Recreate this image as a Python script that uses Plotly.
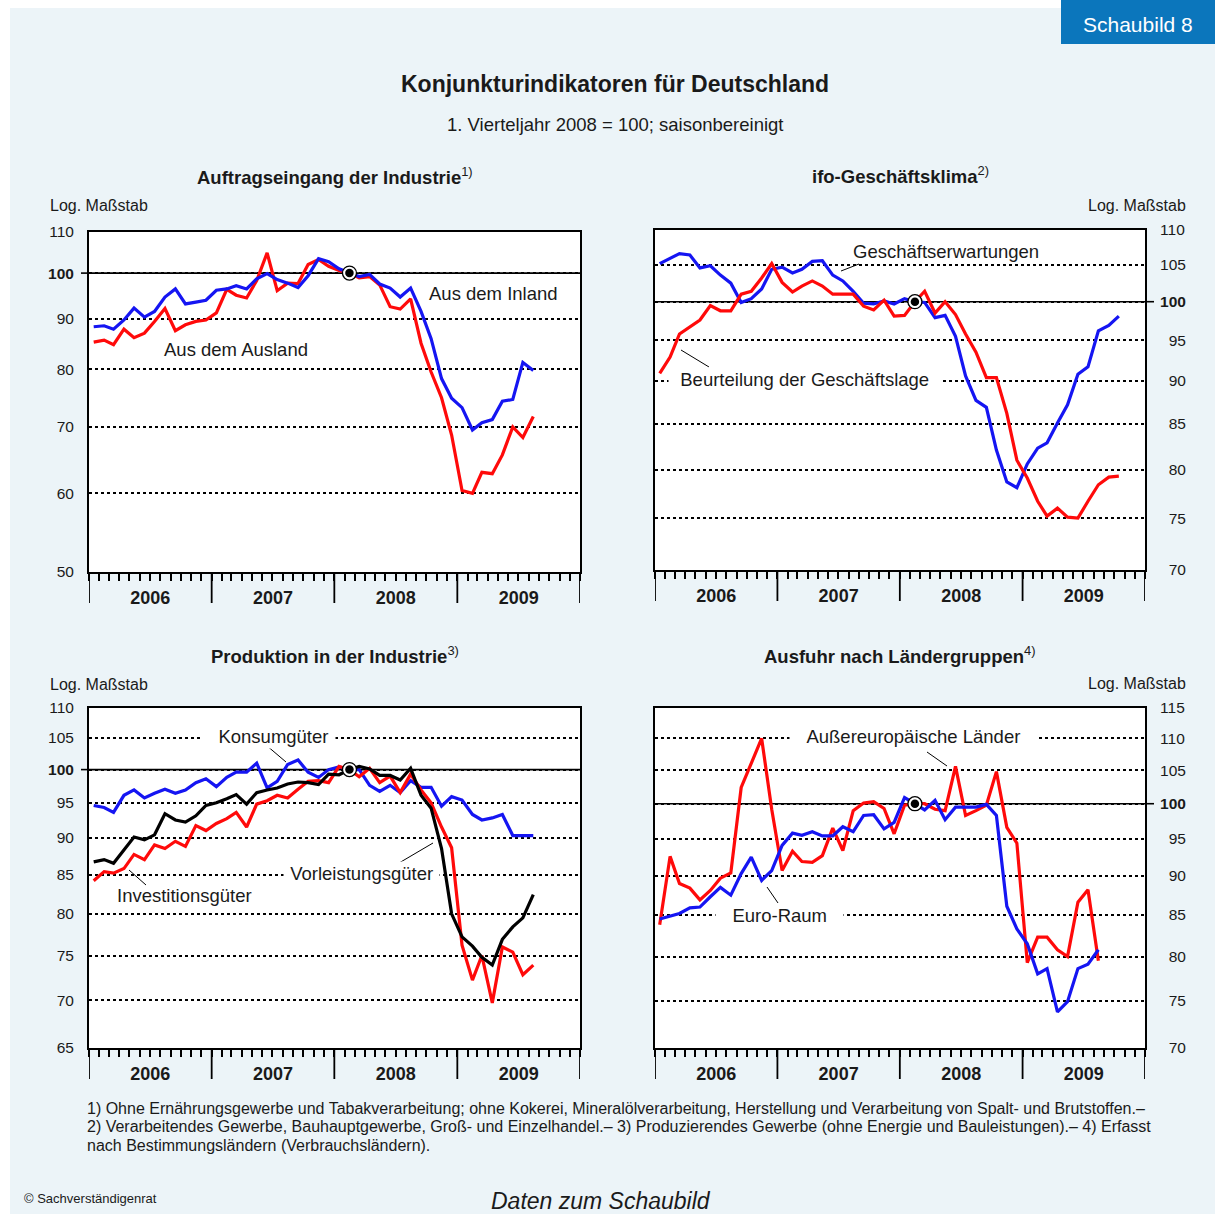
import math
import pandas as pd
import plotly.graph_objects as go

# ---------------- data ----------------
MONTHS = pd.date_range("2006-01-01", "2009-10-01", freq="MS")  # Jan 2006 .. Oct 2009
REF_DATE = "2008-02-15"   # 1. Vierteljahr 2008 = 100
REF_VALUE = 100

auftrag_inland = [88.3, 88.5, 87.8, 89.7, 92.2, 90.3, 91.5, 94.6, 96.4, 93.1,
                  93.5, 93.9, 96.1, 96.4, 97.1, 96.4, 98.7, 99.9, 98.5, 97.7,
                  96.7, 99.4, 103.4, 102.7, 101.0, 100.0, 99.2, 99.7, 97.5, 96.6,
                  94.6, 96.6, 91.5, 85.9, 78.3, 74.8, 73.2, 69.5, 70.7, 71.2,
                  74.3, 74.6, 81.3, 79.8]
auftrag_ausland = [85.2, 85.6, 84.7, 87.8, 86.1, 87.0, 89.4, 92.1, 87.5, 88.7,
                   89.4, 89.7, 91.2, 96.3, 95.0, 94.4, 98.3, 104.8, 96.0, 97.7,
                   97.6, 102.0, 103.2, 101.6, 100.6, 100.0, 98.9, 99.2, 97.3, 92.5,
                   92.0, 94.2, 85.0, 79.5, 74.9, 68.7, 60.4, 60.0, 63.0, 62.8,
                   65.6, 70.0, 68.3, 71.7]

ifo_erwartungen = [105.2, 105.9, 106.6, 106.4, 104.6, 104.9, 103.6, 102.5, 99.9, 100.4,
                   101.7, 104.4, 104.7, 103.9, 104.4, 105.5, 105.6, 103.6, 102.8, 101.4,
                   99.8, 99.7, 100.1, 99.7, 100.4, 100.0, 99.9, 97.9, 98.2, 95.5,
                   90.6, 87.7, 86.9, 82.1, 78.7, 78.1, 80.6, 82.3, 82.9, 85.1,
                   87.2, 90.8, 91.7, 96.2, 96.9, 98.1]
ifo_lage = [90.9, 92.9, 95.8, 96.7, 97.6, 99.5, 98.8, 98.8, 101.0, 101.4,
            103.2, 105.2, 102.6, 101.3, 102.1, 102.8, 102.1, 101.0, 101.0, 101.0,
            99.4, 98.9, 100.2, 98.1, 98.2, 100.0, 101.4, 98.5, 100.0, 98.3,
            95.8, 93.5, 90.4, 90.4, 86.2, 81.0, 79.1, 76.7, 75.2, 76.0,
            75.1, 75.0, 76.7, 78.4, 79.2, 79.3]

prod_konsum = [94.6, 94.3, 93.6, 96.1, 96.9, 95.7, 96.4, 97.0, 96.4, 96.9,
               98.0, 98.6, 97.4, 98.8, 99.6, 99.6, 101.0, 97.2, 98.2, 100.8,
               101.5, 99.6, 98.8, 100.0, 100.4, 100.0, 100.0, 97.6, 96.7, 97.6,
               96.5, 98.3, 97.3, 97.3, 94.5, 95.9, 95.4, 93.3, 92.5, 92.8,
               93.3, 90.3, 90.3, 90.3]
prod_invest = [84.2, 85.4, 85.2, 85.8, 87.7, 87.0, 89.0, 88.5, 89.5, 88.8,
               91.7, 91.0, 92.0, 92.7, 93.6, 91.5, 94.8, 95.3, 96.1, 95.7,
               97.0, 98.2, 98.3, 98.0, 100.5, 100.0, 98.9, 100.2, 98.0, 99.0,
               96.5, 99.3, 96.9, 95.0, 91.5, 88.6, 76.2, 72.2, 75.0, 69.7,
               76.0, 75.4, 72.8, 73.9]
prod_vorleist = [86.7, 87.0, 86.5, 88.4, 90.1, 89.7, 90.4, 93.4, 92.5, 92.2,
                 93.1, 94.6, 95.0, 95.6, 96.2, 94.8, 96.5, 96.9, 97.2, 97.8,
                 98.1, 98.0, 97.7, 99.3, 99.2, 100.0, 100.5, 100.1, 99.1, 99.1,
                 98.4, 100.2, 96.1, 94.2, 88.5, 80.0, 77.2, 76.1, 74.8, 73.9,
                 76.9, 78.4, 79.5, 82.4]

ausfuhr_aussereuropa = [83.8, 92.6, 89.0, 88.4, 86.9, 88.1, 89.7, 90.4, 102.4, 106.0,
                        110.0, 99.2, 90.7, 93.3, 91.9, 91.8, 92.7, 96.5, 93.4, 99.0,
                        100.1, 100.3, 99.3, 95.7, 99.8, 100.0, 100.0, 99.2, 99.0, 105.6,
                        98.3, 99.0, 99.8, 104.8, 96.6, 94.4, 79.3, 82.3, 82.3, 80.8,
                        80.0, 86.6, 88.2, 79.5]
ausfuhr_euro = [84.5, 84.9, 85.2, 85.9, 86.0, 87.3, 88.5, 87.5, 90.3, 92.5,
                89.4, 90.7, 94.1, 95.8, 95.5, 96.0, 95.4, 95.4, 96.7, 96.0,
                98.3, 98.4, 96.4, 97.3, 100.9, 100.0, 99.1, 100.5, 97.7, 99.5,
                99.5, 99.5, 99.9, 98.3, 86.1, 83.3, 81.5, 78.0, 78.6, 73.8,
                74.9, 78.6, 79.1, 80.8]

ticks_p1 = [50, 60, 70, 80, 90, 100, 110]
ticks_p2 = [70, 75, 80, 85, 90, 95, 100, 105, 110]
ticks_p3 = [65, 70, 75, 80, 85, 90, 95, 100, 105, 110]
ticks_p4 = [70, 75, 80, 85, 90, 95, 100, 105, 110, 115]
YEARS = ["2006-01-01", "2007-01-01", "2008-01-01", "2009-01-01", "2010-01-01"]

# ---------------- layout helpers ----------------
W, H = 1215, 1214
def px(x): return x / W
def py(y): return 1 - y / H

FONT = "Liberation Sans, Arial, sans-serif"
TXT = "#1a1a1a"
BLUE = "#1515F2"
RED = "#FF0A0A"
BLACK = "#000000"
BG = "#ECF4F8"

mid = MONTHS + pd.Timedelta(days=14)

panels = [
    dict(xd=(89, 580), yd=(232, 572), rng=(50, 110), ticks=ticks_p1, side="left",
         series=[(auftrag_ausland, RED), (auftrag_inland, BLUE)]),
    dict(xd=(655, 1145), yd=(230, 570), rng=(70, 110), ticks=ticks_p2, side="right",
         series=[(ifo_erwartungen, BLUE), (ifo_lage, RED)]),
    dict(xd=(89, 580), yd=(708, 1048), rng=(65, 110), ticks=ticks_p3, side="left",
         series=[(prod_konsum, BLUE), (prod_invest, RED), (prod_vorleist, BLACK)]),
    dict(xd=(655, 1145), yd=(708, 1048), rng=(70, 115), ticks=ticks_p4, side="right",
         series=[(ausfuhr_aussereuropa, RED), (ausfuhr_euro, BLUE)]),
]

fig = go.Figure()
shapes = []
layout_axes = {}

# background
shapes.append(dict(type="rect", xref="paper", yref="paper", x0=0, x1=1, y0=py(8), y1=1,
                   fillcolor="white", line_width=0, layer="below"))
shapes.append(dict(type="rect", xref="paper", yref="paper", x0=0, x1=px(10), y0=0, y1=1,
                   fillcolor="white", line_width=0, layer="below"))
shapes.append(dict(type="rect", xref="paper", yref="paper", x0=px(1061), x1=1, y0=py(44), y1=1,
                   fillcolor="#0B76BC", line_width=0, layer="above"))

for k, p in enumerate(panels, start=1):
    sfx = "" if k == 1 else str(k)
    xid, yid = "x" + sfx, "y" + sfx
    lo, hi = p["rng"]
    for vals, col in p["series"]:
        fig.add_trace(go.Scatter(x=mid[:len(vals)], y=vals, mode="lines",
                                 line=dict(color=col, width=3.2), xaxis=xid, yaxis=yid,
                                 showlegend=False, hoverinfo="skip"))
    # reference point marker
    fig.add_trace(go.Scatter(x=[REF_DATE], y=[REF_VALUE], mode="markers",
                             marker=dict(size=14, color="white", line=dict(color="black", width=1.3)),
                             xaxis=xid, yaxis=yid, showlegend=False, hoverinfo="skip"))
    fig.add_trace(go.Scatter(x=[REF_DATE], y=[REF_VALUE], mode="markers",
                             marker=dict(size=8.5, color="black"),
                             xaxis=xid, yaxis=yid, showlegend=False, hoverinfo="skip"))

    layout_axes["xaxis" + sfx] = dict(
        domain=[px(p["xd"][0]), px(p["xd"][1])], anchor=yid, type="date",
        range=[YEARS[0], YEARS[-1]], showline=True, mirror=True, linecolor="black", linewidth=2,
        showgrid=False, zeroline=False,
        ticks="outside", ticklen=7, tickwidth=1.5, tickcolor="black",
        tick0=YEARS[0], dtick="M12", tickformat="%Y", ticklabelmode="period",
        tickfont=dict(family=FONT, size=18, color=TXT, weight="bold"), ticklabelstandoff=1,
        minor=dict(tick0=YEARS[0], dtick="M1", ticks="outside", ticklen=7, tickwidth=1.5,
                   tickcolor="black", showgrid=False),
    )
    ticktext = ["<b>%d</b>" % t if t == 100 else str(t) for t in p["ticks"]]
    if p["side"] == "right":
        ticktext = [("\u2007" + s) if len(str(t)) == 2 else s for s, t in zip(ticktext, p["ticks"])]
    layout_axes["yaxis" + sfx] = dict(
        domain=[py(p["yd"][1]), py(p["yd"][0])], anchor=xid, type="log", side=p["side"],
        range=[math.log10(lo), math.log10(hi)], showline=True, mirror=True,
        linecolor="black", linewidth=2, zeroline=False,
        tickmode="array", tickvals=p["ticks"], ticktext=ticktext, ticks="",
        showgrid=True, gridcolor="black", gridwidth=1.6, griddash="dot",
        tickfont=dict(family=FONT, size=15.5, color=TXT), ticklabelstandoff=10,
    )
    # solid 100 line
    shapes.append(dict(type="line", xref=xid, yref=yid, x0=YEARS[0], x1=YEARS[-1],
                       y0=REF_VALUE, y1=REF_VALUE, line=dict(color="black", width=1.6), layer="below"))
    # outward tick at 100
    if p["side"] == "left":
        ex0, ex1 = p["xd"][0] - 8, p["xd"][0]
    else:
        ex0, ex1 = p["xd"][1], p["xd"][1] + 9
    shapes.append(dict(type="line", xref="paper", yref=yid, x0=px(ex0), x1=px(ex1),
                       y0=REF_VALUE, y1=REF_VALUE, line=dict(color="black", width=1.6), layer="above"))
    # year separators in the time band
    for yr in YEARS:
        shapes.append(dict(type="line", xref=xid, yref="paper", x0=yr, x1=yr,
                           y0=py(p["yd"][1]), y1=py(p["yd"][1] + 31),
                           line=dict(color="black", width=1.8), layer="above"))

# leader lines (pixel positions)
leaders = [((841, 271), (859, 264)), ((681, 350), (709, 367)),
           ((266, 745), (286, 762)), ((129, 870), (146, 885)), ((399, 863), (433, 843)),
           ((927, 752), (947, 766)), ((767, 887), (778, 903))]
for (xa, ya), (xb, yb) in leaders:
    shapes.append(dict(type="line", xref="paper", yref="paper", x0=px(xa), y0=py(ya),
                       x1=px(xb), y1=py(yb), line=dict(color="black", width=1), layer="above"))

ann = []
def text(x, y, s, size, anchor="center", bold=False, italic=False, color=TXT, bg=None, pad=1):
    d = dict(xref="paper", yref="paper", x=px(x), y=py(y), text=s, showarrow=False,
             xanchor=anchor, yanchor="middle",
             font=dict(family=FONT, size=size, color=color,
                       weight="bold" if bold else "normal",
                       style="italic" if italic else "normal"),
             borderpad=pad)
    if bg:
        d["bgcolor"] = bg
    ann.append(d)

text(1138, 25, "Schaubild 8", 21, color="white")
text(615, 84, "Konjunkturindikatoren für Deutschland", 23, bold=True)
text(615, 124, "1. Vierteljahr 2008 = 100; saisonbereinigt", 18.5)

text(335, 176, "<b>Auftragseingang der Industrie</b><sup>1)</sup>", 18.5)
text(900, 175, "<b>ifo-Geschäftsklima</b><sup>2)</sup>", 18.5)
text(335, 655, "<b>Produktion in der Industrie</b><sup>3)</sup>", 18.5)
text(900, 655, "<b>Ausfuhr nach Ländergruppen</b><sup>4)</sup>", 18.5)

text(48, 205, "Log. Maßstab", 16, anchor="left")
text(1188, 205, "Log. Maßstab", 16, anchor="right")
text(48, 684, "Log. Maßstab", 16, anchor="left")
text(1188, 683, "Log. Maßstab", 16, anchor="right")

NB = "\u00a0\u00a0"
N1 = "\u00a0"
text(493, 293, "Aus dem Inland", 18.5)
text(236, 349, "Aus dem Ausland", 18.5)
text(946, 251, "Geschäftserwartungen", 18.5)
text(804, 379, NB + "Beurteilung der Geschäftslage" + NB, 18.5, bg="white")
text(268, 736, NB + NB[0] + "Konsumgüter" + N1, 18.5, bg="white")
text(184, 895, "Investitionsgüter", 18.5)
text(361, 873, N1 + "Vorleistungsgüter" + N1, 18.5, bg="white")
text(913, 736, NB + NB[0] + "Außereuropäische Länder" + NB + NB[0], 18.5, bg="white")
text(779, 915, NB + NB[0] + "Euro-Raum" + NB + NB[0], 18.5, bg="white")

notes = [
    "1) Ohne Ernährungsgewerbe und Tabakverarbeitung; ohne Kokerei, Mineralölverarbeitung, Herstellung und Verarbeitung von Spalt- und Brutstoffen.–",
    "2) Verarbeitendes Gewerbe, Bauhauptgewerbe, Groß- und Einzelhandel.– 3) Produzierendes Gewerbe (ohne Energie und Bauleistungen).– 4) Erfasst",
    "nach Bestimmungsländern (Verbrauchsländern).",
]
for i, s in enumerate(notes):
    text(85, 1108 + i * 18.5, s, 16, anchor="left")
text(22, 1198, "© Sachverständigenrat", 13, anchor="left")
text(601, 1201, "Daten zum Schaubild", 23, italic=True)

fig.update_layout(
    width=W, height=H, autosize=False, template="none",
    margin=dict(l=0, r=0, t=0, b=0, pad=0),
    paper_bgcolor=BG, plot_bgcolor="white",
    font=dict(family=FONT, color=TXT),
    shapes=shapes, annotations=ann, showlegend=False,
    **layout_axes,
)
fig.write_html("out.html",
               config={"displayModeBar": False},
               post_script="document.body.style.margin='0';document.body.style.padding='0';"
                           "document.body.style.overflow='hidden';"
                           "document.documentElement.style.overflow='hidden';")
